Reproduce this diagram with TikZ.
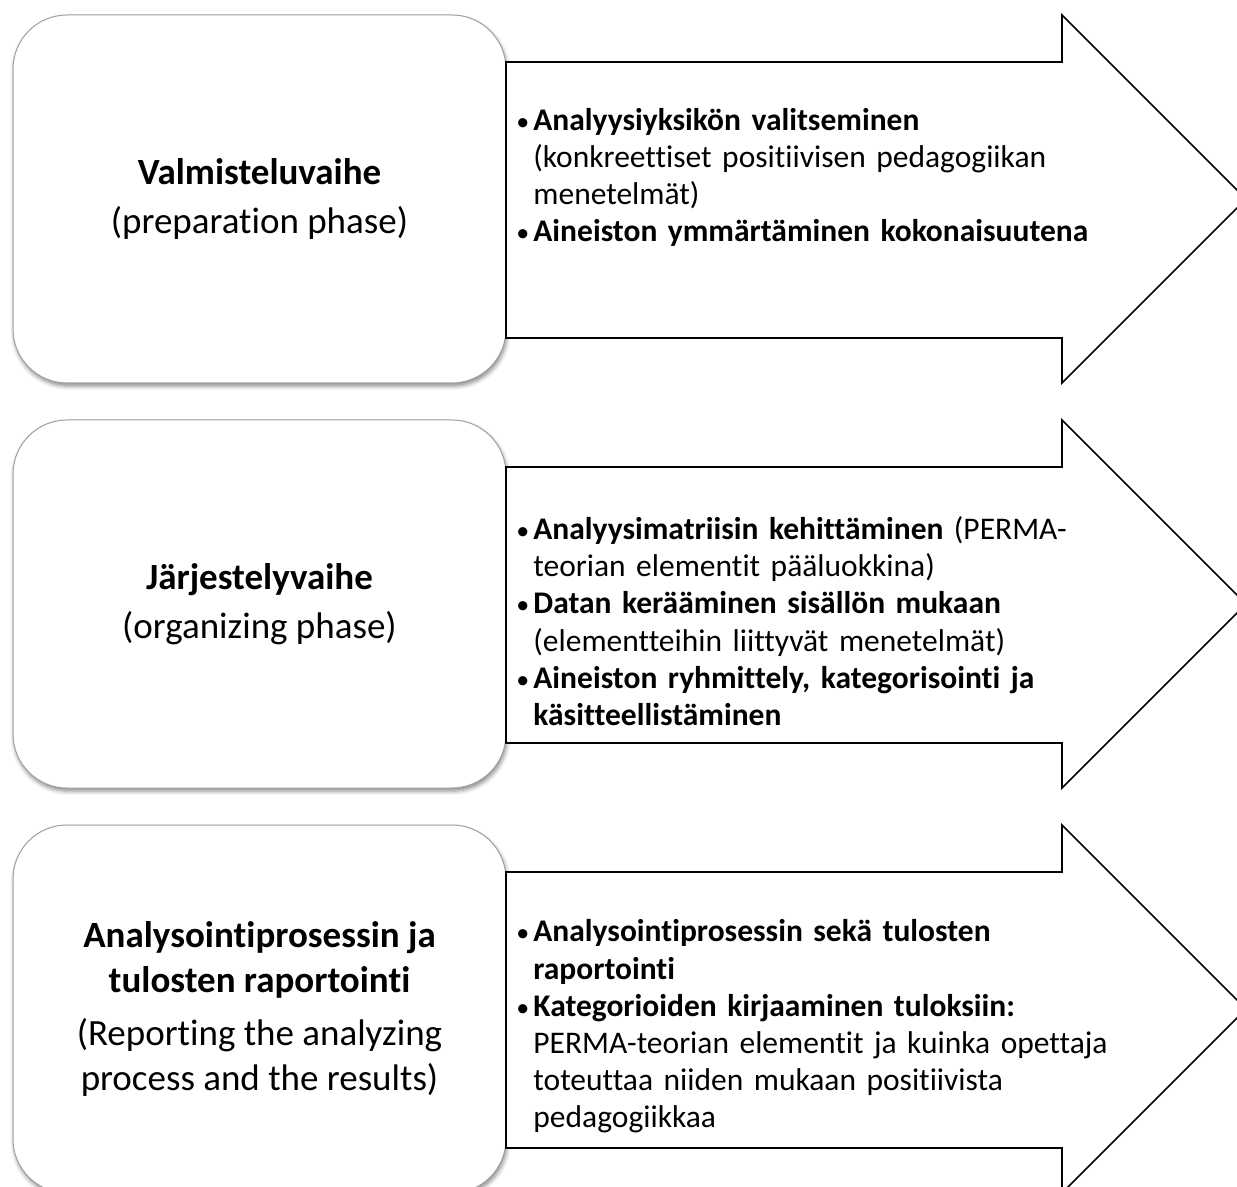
\documentclass[tikz,border=0pt]{standalone}
\usepackage{fontspec}
\setmainfont{Carlito}[Ligatures=NoCommon]
\usetikzlibrary{shadows.blur}
\tikzset{
  phasebox/.style={draw=gray!75, line width=0.5pt, fill=white, rounded corners=27pt,
    minimum width=246.5pt, minimum height=184pt, align=center, inner sep=4pt,
    font=\fontsize{18.5}{22.5}\selectfont,
    blur shadow={shadow xshift=0.6pt, shadow yshift=-1.6pt, shadow blur radius=2pt, shadow opacity=45}},
  phasearrow/.style={draw=black, line width=0.8pt, fill=white, line join=miter},
  itemtext/.style={anchor=west, text width=312pt, inner sep=0pt,
    font=\fontsize{15.75}{18.6}\selectfont}
}
\newcommand{\bpoint}{\par\rightskip=0pt plus 1fil\parfillskip=0pt plus 1fil
  \hangindent=10pt\hangafter=1\noindent\makebox[10pt][l]{\hspace{1.5pt}{\fontsize{13}{13}\selectfont•}}}
\begin{document}
\begin{tikzpicture}[x=0.5pt, y=-0.5pt]
  \clip (0,0) rectangle (1237,1187);
  % phase boxes
  \node[phasebox] (prep) at (259.5,199) {\textbf{Valmisteluvaihe}\\[2pt](preparation phase)};
  \node[phasebox] (org) at (259.5,604) {\textbf{Järjestelyvaihe}\\[2pt](organizing phase)};
  \node[phasebox] (rep) at (259.5,1009) {\textbf{Analysointiprosessin ja}\\\textbf{tulosten raportointi}\\[4pt](Reporting the analyzing\\process and the results)};
  % arrows
  \draw[phasearrow] (506,62) -- (1062,62) -- (1062,15) -- (1246,199) -- (1062,383) -- (1062,338) -- (506,338) -- cycle;
  \draw[phasearrow] (506,467) -- (1062,467) -- (1062,420) -- (1246,604) -- (1062,788) -- (1062,743) -- (506,743) -- cycle;
  \draw[phasearrow] (506,872) -- (1062,872) -- (1062,825) -- (1246,1009) -- (1062,1193) -- (1062,1148) -- (506,1148) -- cycle;
  % arrow texts
  \node[itemtext] (prepText) at (513,170) {%
    \bpoint\textbf{Analyysiyksikön valitseminen}\newline(konkreettiset positiivisen pedagogiikan\newline menetelmät)
    \bpoint\textbf{Aineiston ymmärtäminen kokonaisuutena}\par};
  \node[itemtext] (orgText) at (513,614) {%
    \bpoint\textbf{Analyysimatriisin kehittäminen} (PERMA-\newline teorian elementit pääluokkina)
    \bpoint\textbf{Datan kerääminen sisällön mukaan}\newline(elementteihin liittyvät menetelmät)
    \bpoint\textbf{Aineiston ryhmittely, kategorisointi ja}\newline\textbf{käsitteellistäminen}\par};
  \node[itemtext] (repText) at (513,1019) {%
    \bpoint\textbf{Analysointiprosessin sekä tulosten}\newline\textbf{raportointi}
    \bpoint\textbf{Kategorioiden kirjaaminen tuloksiin:}\newline PERMA-teorian elementit ja kuinka opettaja\newline toteuttaa niiden mukaan positiivista\newline pedagogiikkaa\par};
\end{tikzpicture}
\end{document}
